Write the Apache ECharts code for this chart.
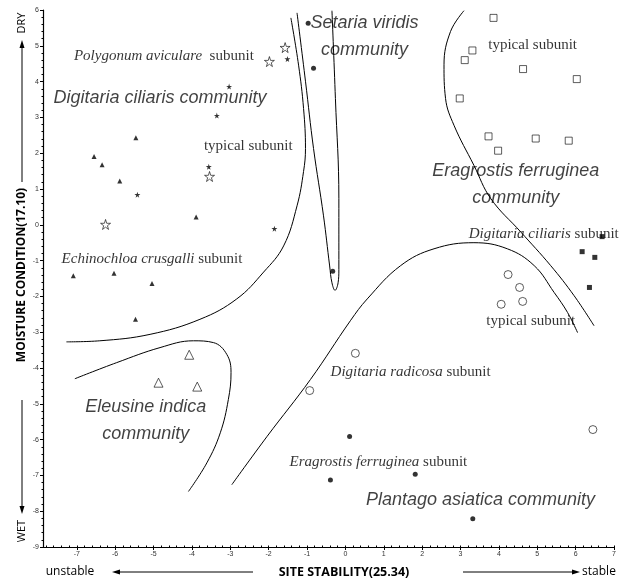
<!DOCTYPE html>
<html>
<head>
<meta charset="utf-8">
<script src="https://cdn.jsdelivr.net/npm/echarts@6/dist/echarts.min.js"></script>
<style>
  html, body { margin: 0; background: #fff; }
  #chart { width: 629px; height: 580px; }
</style>
</head>
<body>
<div id="chart"></div>
<script>
// tick labels
const xTicks = [-7, -6, -5, -4, -3, -2, -1, 0, 1, 2, 3, 4, 5, 6, 7]
const yTicks = [-9, -8, -7, -6, -5, -4, -3, -2, -1, 0, 1, 2, 3, 4, 5, 6]

// stand scores: [site stability, moisture condition]
const echinochloaSub = [[-5.46, 2.43], [-6.55, 1.91], [-6.34, 1.68], [-5.88, 1.22], [-3.89, 0.22],
  [-7.09, -1.42], [-6.03, -1.35], [-5.04, -1.64], [-5.47, -2.64]]
const digCilTypical = [[-5.42, 0.84], [-3.56, 1.62], [-1.51, 4.63], [-3.03, 3.86], [-3.35, 3.05], [-1.85, -0.11]]
const polygonumSub = [[-1.57, 4.95], [-1.98, 4.56], [-3.54, 1.35], [-6.25, 0.01]]
const setariaStands = [[-0.97, 5.63], [-0.83, 4.37], [-0.33, -1.30]]
const eraFerSub = [[0.11, -5.91], [-0.39, -7.13], [1.82, -6.97], [3.32, -8.21]]
const radicosaTypical = [[0.26, -3.59], [-0.93, -4.63], [6.45, -5.72], [4.24, -1.39], [4.54, -1.75], [4.06, -2.22], [4.62, -2.14]]
const digCilSub = [[6.69, -0.33], [6.17, -0.75], [6.50, -0.91], [6.36, -1.75]]
const eragrostisTypical = [[3.86, 5.78], [3.31, 4.87], [3.11, 4.60], [4.63, 4.35], [6.03, 4.07],
  [2.98, 3.53], [3.73, 2.47], [4.96, 2.41], [5.82, 2.35], [3.98, 2.07]]
const eleusineStands = [[-4.07, -3.63], [-4.87, -4.41], [-3.86, -4.52]]

// community boundaries (hand drawn in the original)
const curveDigitaria = [[-1.42, 5.78], [-1.22, 4.46], [-1.09, 3.25], [-1.04, 2.13], [-1.09, 1.49], [-1.26, 0.53],
  [-1.61, -0.59], [-2.13, -1.32], [-2.83, -2.07], [-3.79, -2.64], [-5.09, -3.06], [-6.40, -3.24], [-7.27, -3.27]]
const curveSetaria = [[-1.26, 5.92], [-1.04, 4.01], [-0.83, 2.13], [-0.57, 0.25], [-0.41, -1.15], [-0.35, -1.62],
  [-0.27, -1.83], [-0.19, -1.62], [-0.17, -1.25], [-0.17, 0.73], [-0.26, 3.53], [-0.35, 5.98]]
const curveEleusine = [[-7.05, -4.30], [-5.96, -3.85], [-4.83, -3.43], [-3.96, -3.24], [-3.44, -3.29], [-3.09, -3.62],
  [-2.98, -4.13], [-3.05, -4.88], [-3.26, -5.81], [-3.61, -6.65], [-4.09, -7.45]]
const curvePlantago = [[-2.96, -7.26], [-2.04, -5.91], [-0.91, -4.32], [0.13, -2.68], [0.57, -2.07], [1.44, -1.14],
  [2.31, -0.67], [3.35, -0.50], [4.22, -0.67], [4.92, -1.14], [5.44, -1.89], [5.79, -2.45], [6.05, -3.01]]
const curveEragrostis = [[3.09, 5.98], [2.74, 5.40], [2.57, 4.47], [2.61, 3.53], [2.83, 2.78], [3.35, 1.66],
  [3.79, 0.73], [4.57, -0.20], [5.35, -1.14], [5.96, -1.98], [6.48, -2.82]]

// annotations: [x, y, rich text]
const annotations = [
  [-4.73, 4.71, '{i|Polygonum aviculare}{r|  subunit}'],
  [-4.83, 3.53, '{c|Digitaria ciliaris community}'],
  [-2.53, 2.21, '{r|typical subunit}'],
  [-5.04, -0.95, '{i|Echinochloa crusgalli}{r| subunit}'],
  [0.50, 5.27, '{c|Setaria viridis}\n{c|community}'],
  [4.44, 1.12, '{c|Eragrostis ferruginea}\n{c|community}'],
  [4.88, 5.02, '{r|typical subunit}'],
  [5.17, -0.25, '{i|Digitaria ciliaris}{r| subunit}'],
  [4.83, -2.69, '{r|typical subunit}'],
  [1.70, -4.12, '{i|Digitaria radicosa}{r| subunit}'],
  [0.86, -6.62, '{i|Eragrostis ferruginea}{r| subunit}'],
  [3.52, -7.68, '{c|Plantago asiatica community}'],
  [-5.20, -5.47, '{c|Eleusine indica}\n{c|community}']
]

const STAR = 'path://M50,0 L61,35 L98,35 L68,57 L79,91 L50,70 L21,91 L32,57 L2,35 L39,35 Z'
const serif = '"Liberation Serif", "DejaVu Serif", serif'
const sans = '"Liberation Sans", Arial, sans-serif'

const filled = { color: '#000' }
const hollow = { color: '#fff', borderColor: '#000', borderWidth: 0.8 }

function points(data, symbol, size, style) {
  return { type: 'scatter', data, symbol, symbolSize: size, itemStyle: style, z: 4, silent: true }
}

function curve(data) {
  return {
    type: 'line', data, smooth: 0.4, showSymbol: false, silent: true,
    lineStyle: { color: '#000', width: 1 }, z: 3
  }
}

const xMin = -7.88
const minorX = []
for (let v = -7.8; v <= 7.001; v += 0.2) minorX.push(Math.round(v * 10) / 10)

const chart = echarts.init(document.getElementById('chart'))

const option = {
  animation: false,
  grid: { left: 43, right: 15, top: 10, bottom: 33 },
  xAxis: [
    {
      type: 'value', min: xMin, max: 7,
      axisLine: { onZero: false, lineStyle: { color: '#000', width: 1.2 } },
      axisTick: { customValues: xTicks, length: 3, lineStyle: { color: '#000' } },
      axisLabel: { customValues: xTicks, fontSize: 7, color: '#333', margin: 4, fontFamily: sans },
      splitLine: { show: false }
    },
    {
      type: 'value', min: xMin, max: 7, position: 'bottom',
      axisLine: { show: false, onZero: false },
      axisTick: { customValues: minorX, length: 1.5, inside: true, lineStyle: { color: '#000' } },
      axisLabel: { show: false },
      splitLine: { show: false }
    }
  ],
  yAxis: {
    type: 'value', min: -9, max: 6, interval: 1,
    axisLine: { show: true, onZero: false, lineStyle: { color: '#000', width: 1.2 } },
    axisTick: { show: true, length: 3, lineStyle: { color: '#000' } },
    minorTick: { show: true, splitNumber: 5, length: 1.5, lineStyle: { color: '#000' } },
    axisLabel: { fontSize: 7, color: '#333', margin: 4, fontFamily: sans },
    splitLine: { show: false }
  },
  series: [
    curve(curveDigitaria),
    curve(curveSetaria),
    curve(curveEleusine),
    curve(curvePlantago),
    curve(curveEragrostis),
    points(echinochloaSub, 'triangle', 5, filled),
    points(digCilTypical, STAR, 6, filled),
    points(polygonumSub, STAR, 10, hollow),
    points(setariaStands, 'circle', 5, filled),
    points(eraFerSub, 'circle', 5, filled),
    points(radicosaTypical, 'circle', 8, hollow),
    points(digCilSub, 'rect', 5, filled),
    points(eragrostisTypical, 'rect', 7, hollow),
    points(eleusineStands, 'triangle', 9, hollow),
    {
      type: 'scatter', symbolSize: 0, silent: true, z: 2,
      data: annotations.map(a => ({ value: [a[0], a[1]], label: { formatter: a[2] } })),
      label: {
        show: true, position: 'inside', color: '#000',
        rich: {
          i: { fontFamily: serif, fontStyle: 'italic', fontSize: 15, color: '#000' },
          r: { fontFamily: serif, fontSize: 15, color: '#000' },
          c: {
            fontFamily: sans, fontStyle: 'italic', fontSize: 18, color: '#111', lineHeight: 27,
            textShadowColor: '#888', textShadowOffsetX: 2, textShadowOffsetY: 1.5, textShadowBlur: 0
          }
        }
      }
    }
  ],
  graphic: [
    // moisture axis name with arrows
    { type: 'text', x: 22, y: 23, rotation: Math.PI / 2, style: { text: 'DRY', font: '11px "Open Sans", sans-serif', fill: '#000', align: 'center', verticalAlign: 'middle' } },
    { type: 'line', shape: { x1: 22, y1: 46, x2: 22, y2: 182 }, style: { stroke: '#000', lineWidth: 1 } },
    { type: 'polygon', shape: { points: [[22, 40], [19.5, 48], [24.5, 48]] }, style: { fill: '#000' } },
    { type: 'text', x: 22, y: 275, rotation: Math.PI / 2, style: { text: 'MOISTURE CONDITION(17.10)', font: 'bold 12px "Open Sans", sans-serif', fill: '#000', align: 'center', verticalAlign: 'middle' } },
    { type: 'line', shape: { x1: 22, y1: 400, x2: 22, y2: 508 }, style: { stroke: '#000', lineWidth: 1 } },
    { type: 'polygon', shape: { points: [[22, 514], [19.5, 506], [24.5, 506]] }, style: { fill: '#000' } },
    { type: 'text', x: 22, y: 531, rotation: Math.PI / 2, style: { text: 'WET', font: '11px "Open Sans", sans-serif', fill: '#000', align: 'center', verticalAlign: 'middle' } },
    // stability axis name with arrows
    { type: 'text', x: 70, y: 572, style: { text: 'unstable', font: '12px "Open Sans", sans-serif', fill: '#000', align: 'center', verticalAlign: 'middle' } },
    { type: 'line', shape: { x1: 118, y1: 572, x2: 253, y2: 572 }, style: { stroke: '#000', lineWidth: 1 } },
    { type: 'polygon', shape: { points: [[112, 572], [120, 569.5], [120, 574.5]] }, style: { fill: '#000' } },
    { type: 'text', x: 344, y: 572, style: { text: 'SITE STABILITY(25.34)', font: 'bold 12.5px "Open Sans", sans-serif', fill: '#000', align: 'center', verticalAlign: 'middle' } },
    { type: 'line', shape: { x1: 463, y1: 572, x2: 574, y2: 572 }, style: { stroke: '#000', lineWidth: 1 } },
    { type: 'polygon', shape: { points: [[580, 572], [572, 569.5], [572, 574.5]] }, style: { fill: '#000' } },
    { type: 'text', x: 599, y: 572, style: { text: 'stable', font: '12px "Open Sans", sans-serif', fill: '#000', align: 'center', verticalAlign: 'middle' } }
  ]
}

chart.setOption(option)
</script>
</body>
</html>
